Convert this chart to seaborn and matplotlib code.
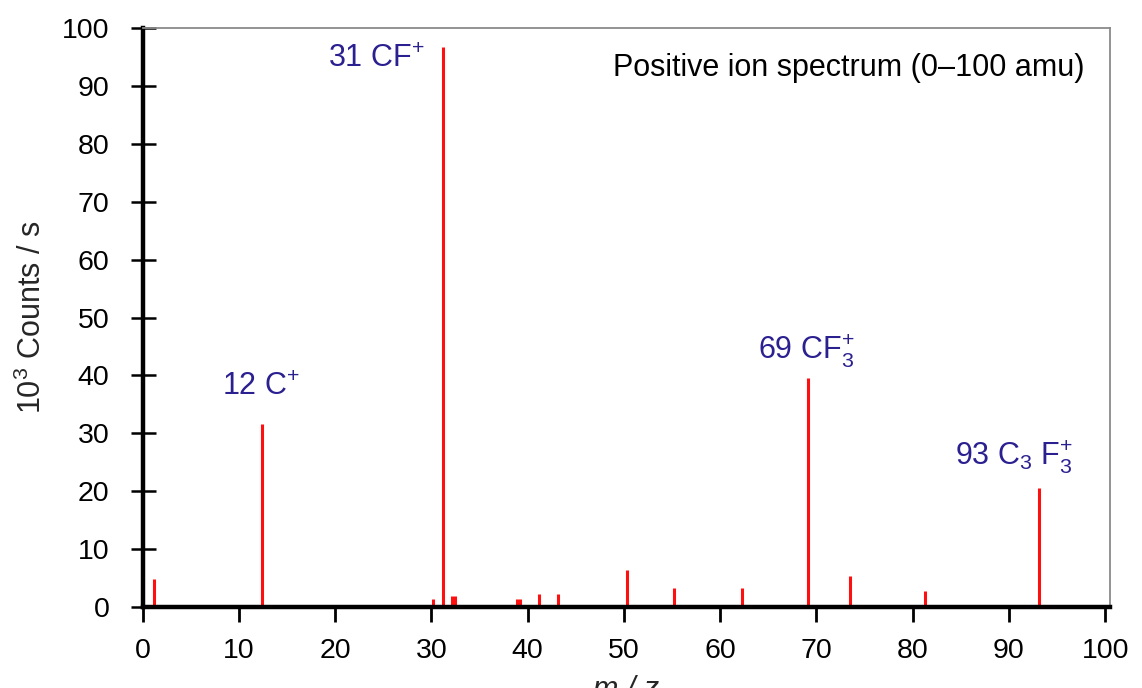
import matplotlib
matplotlib.use("Agg")
import matplotlib.pyplot as plt
import seaborn as sns
import pandas as pd

# peak positions (m/z) and intensities (10^3 counts/s)
mass = [1.2, 12.4, 30.2, 31.2, 32.1, 32.4, 38.9, 39.2, 41.2, 43.1,
        50.3, 55.2, 62.3, 69.1, 73.5, 81.3, 93.1]
counts = [4.8, 31.6, 1.4, 96.8, 1.9, 1.9, 1.4, 1.4, 2.3, 2.3,
          6.4, 3.3, 3.3, 39.6, 5.4, 2.8, 20.6]

peak_labels = ["12 C$^{+}$", "31 CF$^{+}$", "69 CF$_{3}^{+}$", "93 C$_{3}$ F$_{3}^{+}$"]
label_x = [8.2, 29.3, 63.9, 84.4]
label_y = [36.7, 93.3, 42.9, 24.6]
label_ha = ["left", "right", "left", "left"]

df = pd.DataFrame({"mz": mass, "counts": counts})

sns.set_theme(style="white")
plt.rcParams['font.family'] = ['Liberation Sans', 'DejaVu Sans']
plt.rcParams['mathtext.default'] = 'regular'

fig = plt.figure(figsize=(11.42, 6.88), dpi=100)
ax = fig.add_axes([0.125, 0.1177, 0.847, 0.8416])

ax.vlines(df["mz"], 0, df["counts"], color="#ff1010", linewidth=2.2)

ax.set_xlim(0, 100.5)
ax.set_ylim(0, 100)
ax.set_xticks(range(0, 101, 10))
ax.set_yticks(range(0, 101, 10))

for side in ["left", "bottom"]:
    ax.spines[side].set_color("black")
    ax.spines[side].set_linewidth(3.2)
for side in ["top", "right"]:
    ax.spines[side].set_color("#8a8a8a")
    ax.spines[side].set_linewidth(1.3)

ax.tick_params(axis="x", direction="out", length=11, width=2, pad=11,
               labelsize=20.5, colors="black", bottom=True)
ax.tick_params(axis="y", direction="inout", length=18, width=1.8, pad=15,
               labelsize=20.5, colors="black", left=True)

ax.set_ylabel("10$^{3}$ Counts / s", fontsize=22, labelpad=10)
# the x label sits partly below the figure edge, as in the source image
ax.set_xlabel("m / z", fontsize=22, style="italic", labelpad=8)

for txt, x, y, ha in zip(peak_labels, label_x, label_y, label_ha):
    ax.text(x, y, txt, ha=ha, va="baseline", fontsize=22, color="#2b2090")

ax.text(97.9, 91.7, "Positive ion spectrum (0–100 amu)", ha="right",
        va="baseline", fontsize=22, color="black")

fig.savefig("out.png", dpi=100)
